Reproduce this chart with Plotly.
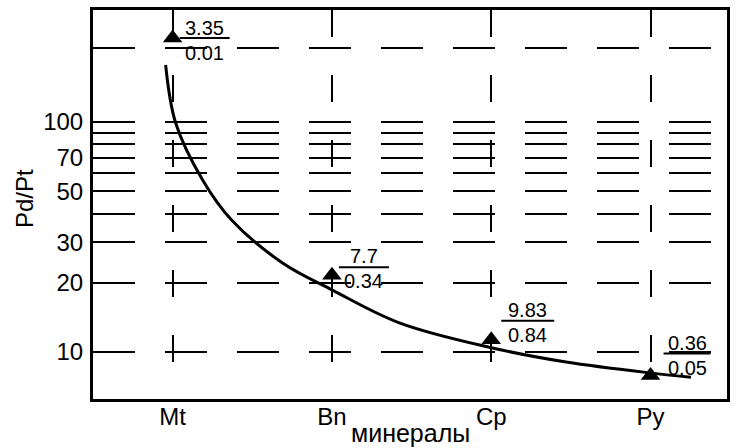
import math
import plotly.graph_objects as go

# ---- data ----
minerals = ["Mt", "Bn", "Cp", "Py"]
pd_content = ["3.35", "7.7", "9.83", "0.36"]
pt_content = ["0.01", "0.34", "0.84", "0.05"]
pd_pt_ratio = [232, 21.6, 11.3, 7.9]  # plotted marker heights as drawn

curve_x = [-0.044, 0.019, 0.188, 0.370, 0.690, 1.003, 1.423, 1.987, 2.470, 3.009, 3.254]
curve_y = [177, 99, 56.0, 37.5, 24.4, 18.6, 13.4, 10.5, 9.05, 8.1, 7.78]

grid_vals = [10, 20, 30, 40, 50, 60, 70, 80, 90, 100, 210]
grid_text = ["10", "20", "30", "", "50", "", "70", "", "", "100", ""]

# ---- label placement (pixels) ----
label_line_dy = [1, -8, -19, -22]          # fraction bar offset from marker (+ = down)
label_line_x = [(7, 57), (7, 57), (10, 63), (13, 60)]

FONT = "Liberation Sans, Arial, sans-serif"
x_idx = list(range(len(minerals)))

fig = go.Figure()
fig.add_trace(go.Scatter(
    x=curve_x, y=curve_y, mode="lines",
    line=dict(color="black", width=3, shape="spline", smoothing=1.0),
    hoverinfo="skip", showlegend=False))
fig.add_trace(go.Scatter(
    x=x_idx, y=pd_pt_ratio, mode="markers",
    marker=dict(symbol="triangle-up", size=17, color="black"),
    showlegend=False))

annotations = []
shapes = []
for i, (num, den, val) in enumerate(zip(pd_content, pt_content, pd_pt_ratio)):
    x0, x1 = label_line_x[i]
    cx = (x0 + x1) / 2
    ly = label_line_dy[i]
    annotations.append(dict(x=i, y=math.log10(val), xref="x", yref="y", text=num,
                            showarrow=False, xshift=cx, yshift=-ly - 1,
                            yanchor="bottom", borderpad=0,
                            font=dict(family=FONT, size=20, color="black")))
    annotations.append(dict(x=i, y=math.log10(val), xref="x", yref="y", text=den,
                            showarrow=False, xshift=cx, yshift=-ly - 2,
                            yanchor="top", borderpad=0,
                            font=dict(family=FONT, size=20, color="black")))
    shapes.append(dict(type="line", xref="x", yref="y",
                       xsizemode="pixel", xanchor=i, x0=x0, x1=x1,
                       ysizemode="pixel", yanchor=val, y0=-ly, y1=-ly,
                       line=dict(color="black", width=2)))

annotations.append(dict(text="минералы", xref="paper", yref="paper", x=0.5, y=0,
                        yanchor="top", yshift=-18, showarrow=False,
                        font=dict(family=FONT, size=25, color="black")))
annotations.append(dict(text="Pd/Pt", xref="paper", yref="paper", x=0, y=0.514,
                        xanchor="center", yanchor="middle", xshift=-69, textangle=-90,
                        showarrow=False, font=dict(family=FONT, size=24, color="black")))

fig.update_layout(
    width=736, height=448,
    margin=dict(l=93, r=6, t=10, b=49),
    paper_bgcolor="white", plot_bgcolor="white",
    font=dict(family=FONT, color="black"),
    annotations=annotations, shapes=shapes,
    xaxis=dict(range=[-0.5, 3.48], tickvals=x_idx, ticktext=minerals,
               showgrid=True, gridcolor="black", gridwidth=2, griddash="27px,38px",
               showline=True, linecolor="black", linewidth=3, mirror=True,
               ticks="", zeroline=False, ticklabelstandoff=-6,
               tickfont=dict(size=24, family=FONT, color="black")),
    yaxis=dict(type="log", range=[0.796, 2.487], tickvals=grid_vals, ticktext=grid_text,
               showgrid=True, gridcolor="black", gridwidth=2, griddash="42px,30px",
               showline=True, linecolor="black", linewidth=3, mirror=True,
               ticks="", zeroline=False, ticklabelstandoff=2,
               tickfont=dict(size=24, family=FONT, color="black")),
)

fig.write_html("out.html")
